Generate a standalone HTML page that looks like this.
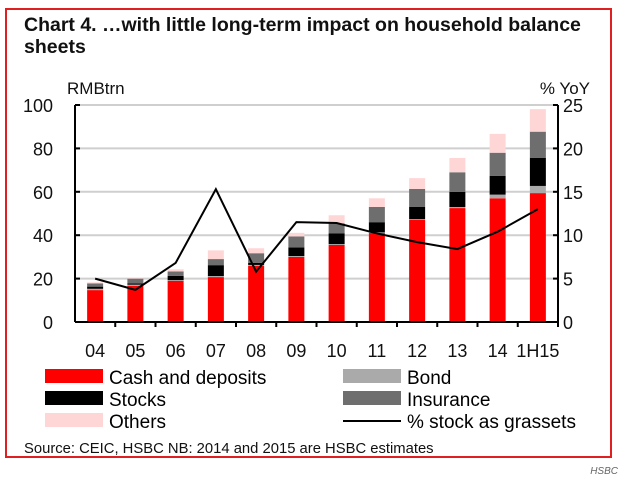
<!DOCTYPE html>
<html><head><meta charset="utf-8"><style>
body{margin:0;background:#fff;font-family:"Liberation Sans",sans-serif;}
svg text{font-family:"Liberation Sans",sans-serif;}
</style></head><body>
<svg width="628" height="488" viewBox="0 0 628 488">
<rect x="6" y="9" width="605" height="448" fill="none" stroke="#e02020" stroke-width="2"/>
<text x="24" y="31" font-size="19.5" font-weight="bold" fill="#111">Chart 4. …with little long-term impact on household balance</text>
<text x="24" y="53" font-size="19.5" font-weight="bold" fill="#111">sheets</text>
<text x="67" y="94" font-size="17" fill="#111">RMBtrn</text>
<text x="590" y="94" font-size="17" fill="#111" text-anchor="end">% YoY</text>
<g id="grid"></g><g id="bars"></g><g id="axes"></g><g id="line"></g>
<g>
<rect x="45" y="369" width="58" height="14" fill="#ff0000"/>
<text x="109" y="384" font-size="19">Cash and deposits</text>
<rect x="45" y="391" width="58" height="14" fill="#000"/>
<text x="109" y="406" font-size="19">Stocks</text>
<rect x="45" y="413" width="58" height="14" fill="#ffd6d6"/>
<text x="109" y="428" font-size="19">Others</text>
<rect x="343" y="369" width="58" height="14" fill="#aaaaaa"/>
<text x="407" y="384" font-size="19">Bond</text>
<rect x="343" y="391" width="58" height="14" fill="#6e6e6e"/>
<text x="407" y="406" font-size="19">Insurance</text>
<line x1="343" y1="421" x2="401" y2="421" stroke="#000" stroke-width="2"/>
<text x="407" y="428" font-size="19">% stock as grassets</text>
</g>
<text x="24" y="453" font-size="14.8" fill="#111">Source: CEIC, HSBC  NB: 2014 and 2015 are HSBC estimates</text>
<text x="618" y="474" font-size="10" font-style="italic" fill="#666" text-anchor="end" font-family="Liberation Serif">HSBC</text>
</svg>
<script>
const categories=["04","05","06","07","08","09","10","11","12","13","14","1H15"];
const cash=[14.7,16.6,19,20.7,25.8,30,35.5,41,47,52.5,57,59.4];
const bond=[0.6,0.6,0.3,0.5,0.5,0.4,0.4,0.3,0.4,0.5,1.7,3.3];
const stocks=[1,0.6,2,5,1,4,5,4.7,5.6,7,8.7,13];
const insurance=[1.5,2.2,2,2.8,4.4,5,4.6,7,8.3,9,10.6,12];
const others=[0.5,0.5,1,4,2.3,1.7,3.7,4,5,6.6,8.7,10.4];
const stockPct=[5.0,3.7,6.8,15.3,5.8,11.5,11.4,10.2,9.2,8.4,10.4,13.0];
const leftTicks=[0,20,40,60,80,100];
const rightTicks=[0,5,10,15,20,25];
const NS="http://www.w3.org/2000/svg";
const X0=75,X1=558,Y0=322,Y1=105;
const band=(X1-X0)/categories.length;
const xC=i=>X0+band*(i+0.5);
const yL=v=>Y0-(v/100)*(Y0-Y1);
const yR=v=>Y0-(v/25)*(Y0-Y1);
function mk(tag,attrs,parent){const e=document.createElementNS(NS,tag);for(const k in attrs)e.setAttribute(k,attrs[k]);document.getElementById(parent).appendChild(e);return e;}
leftTicks.forEach((t,i)=>{
 if(t>0){const g=mk('line',{x1:X0,x2:X1,y1:yL(t),y2:yL(t),stroke:'#cfcfcf','stroke-width':2},'grid');
 
 }
 const l=mk('text',{x:53,y:yL(t)+7,'font-size':18,'text-anchor':'end',fill:'#111'},'axes');l.textContent=t;
 
 
 const tk=mk('line',{x1:X0,x2:X0+5,y1:yL(t),y2:yL(t),stroke:'#000','stroke-width':2},'axes');
 
 
});
rightTicks.forEach(t=>{
 const l=mk('text',{x:563,y:yR(t)+7,'font-size':18,fill:'#111'},'axes');l.textContent=t;
 
 
 const tk=mk('line',{x1:X1-5,x2:X1,y1:yR(t),y2:yR(t),stroke:'#000','stroke-width':2},'axes');
 
 
});
const series=[[cash,'#ff0000','cash'],[bond,'#aaaaaa','bond'],[stocks,'#000000','stocks'],[insurance,'#6e6e6e','insurance'],[others,'#ffd6d6','others']];
categories.forEach((c,i)=>{
 let acc=0;
 series.forEach(([arr,col,nm])=>{
  const y0=yL(acc),y1=yL(acc+arr[i]);acc+=arr[i];
  const r=mk('rect',{x:xC(i)-8,y:y1,width:16,height:y0-y1,fill:col},'bars');
  
  
 });
 const t=mk('text',{x:xC(i),y:357,'font-size':18,'text-anchor':'middle',fill:'#111'},'axes');t.textContent=c;
 
 
 const tk=mk('line',{x1:X0+band*(i+1),x2:X0+band*(i+1),y1:Y0,y2:Y0+5,stroke:'#000','stroke-width':2},'axes');
 
 
});
const ax=[[X0,Y1,X0,Y0],[X1,Y1,X1,Y0],[X0,Y0,X1,Y0]];
ax.forEach(a=>{const l=mk('line',{x1:a[0],y1:a[1],x2:a[2],y2:a[3],stroke:'#000','stroke-width':2},'axes');
 
 });
const p=mk('polyline',{points:stockPct.map((v,i)=>xC(i)+','+yR(v)).join(' '),fill:'none',stroke:'#000','stroke-width':2},'line');


</script>
</body></html>
